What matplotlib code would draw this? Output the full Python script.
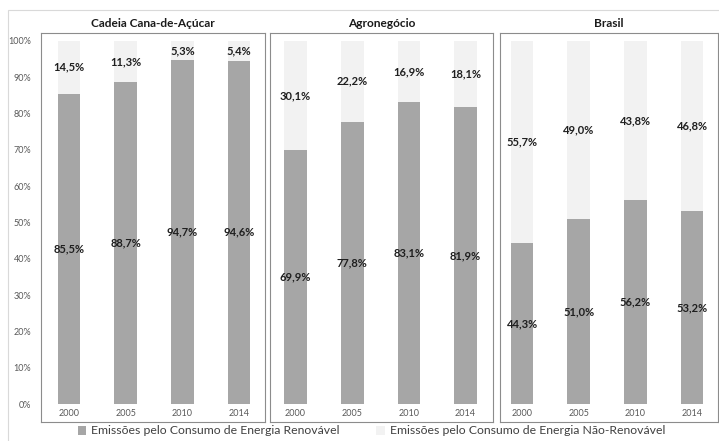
import matplotlib
matplotlib.use("Agg")
import matplotlib.pyplot as plt
from matplotlib.patches import Rectangle, Patch

plt.rcParams['font.family'] = ['Lato', 'DejaVu Sans']

years = ["2000", "2005", "2010", "2014"]
panels = ["Cadeia Cana-de-Açúcar", "Agronegócio", "Brasil"]
renovavel = [
    [85.5, 88.7, 94.7, 94.6],
    [69.9, 77.8, 83.1, 81.9],
    [44.3, 51.0, 56.2, 53.2],
]
nao_renovavel = [
    [14.5, 11.3, 5.3, 5.4],
    [30.1, 22.2, 16.9, 18.1],
    [55.7, 49.0, 43.8, 46.8],
]
yticks = [0, 10, 20, 30, 40, 50, 60, 70, 80, 90, 100]
legend_labels = ["Emissões pelo Consumo de Energia Renovável",
                 "Emissões pelo Consumo de Energia Não-Renovável"]

C_REN = "#a6a6a6"
C_NAO = "#f2f2f2"

W, H = 719, 441
fig = plt.figure(figsize=(W / 100, H / 100), dpi=100)

# outer frame
fig.patches.append(Rectangle((8 / W, -0.05), 1.0, 1 - 10 / H + 0.05, transform=fig.transFigure,
                             fill=False, edgecolor="#d9d9d9", linewidth=0.8))

# box pixel extents: (L, R), first/last bar centres
boxes = [(41, 265, 69, 239), (270, 493, 295.5, 465.5), (500, 718, 522, 692)]
top_px, bot_px = 33, 422
y100, y0 = 41, 404
yscale = (y0 - y100) / 100.0
ylo = -(bot_px - y0) / yscale
yhi = 100 + (y100 - top_px) / yscale

for k, (L, R, c0, c3) in enumerate(boxes):
    ax = fig.add_axes([L / W, 1 - bot_px / H, (R - L) / W, (bot_px - top_px) / H])
    s = (c3 - c0) / 3.0
    ax.set_xlim(-(c0 - L) / s, 3 + (R - c3) / s)
    ax.set_ylim(ylo, yhi)
    x = list(range(len(years)))
    ren = renovavel[k]
    nao = nao_renovavel[k]
    ax.bar(x, ren, width=0.4, color=C_REN, zorder=2)
    ax.bar(x, nao, width=0.4, bottom=ren, color=C_NAO, zorder=2)
    for i in x:
        ax.text(i, ren[i] / 2, f"{ren[i]:.1f}%".replace(".", ","), ha="center", va="center",
                fontsize=8, fontweight="bold", color="#1f1f1f", zorder=3)
        ax.text(i, ren[i] + nao[i] / 2, f"{nao[i]:.1f}%".replace(".", ","), ha="center", va="center",
                fontsize=8, fontweight="bold", color="#1f1f1f", zorder=3)
    for sp in ax.spines.values():
        sp.set_edgecolor("#8c8c8c")
        sp.set_linewidth(0.8)
    ax.set_xticks(x)
    ax.set_xticklabels(years)
    ax.tick_params(axis="x", length=0, pad=-9.5, labelsize=6.5, labelcolor="#595959")
    if k == 0:
        ax.set_yticks(yticks)
        ax.set_yticklabels([f"{v}%" for v in yticks])
        ax.tick_params(axis="y", length=0, pad=7, labelsize=6.5, labelcolor="#595959")
    else:
        ax.set_yticks([])
    ax.set_title(panels[k], fontsize=8.6, fontweight="bold", color="#1a1a1a", pad=4.5)

handles = [Patch(facecolor=C_REN, edgecolor="none"), Patch(facecolor=C_NAO, edgecolor="none")]
fig.legend(handles, legend_labels, loc="center", bbox_to_anchor=(371.5 / W, 1 - 431 / H),
           ncol=2, frameon=False, fontsize=8.8, handlelength=0.7, handleheight=0.7,
           handletextpad=0.4, columnspacing=3.0, labelcolor="#404040")

fig.savefig("out.png", dpi=100)
